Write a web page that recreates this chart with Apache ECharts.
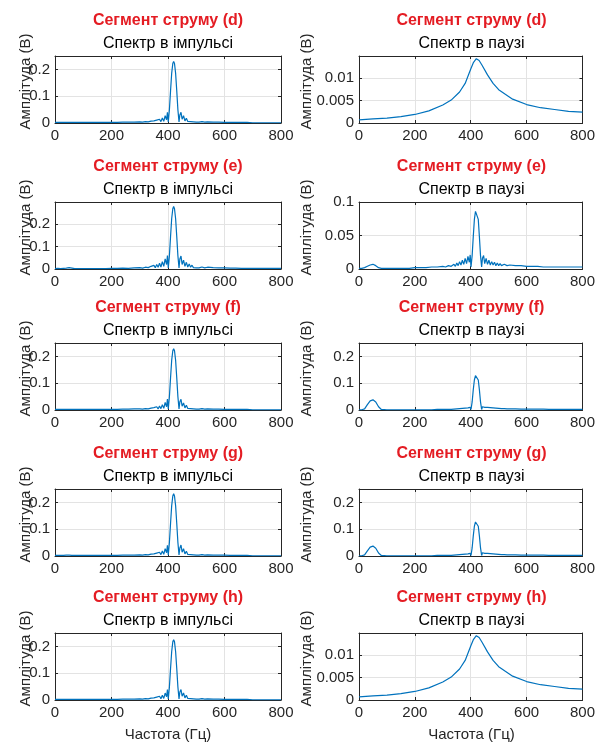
<!DOCTYPE html>
<html>
<head>
<meta charset="utf-8">
<script src="https://cdn.jsdelivr.net/npm/echarts@6/dist/echarts.min.js"></script>
<style>
  html, body { margin: 0; padding: 0; background: #fff; }
  #main { width: 598px; height: 747px; }
</style>
</head>
<body>
<div id="main"></div>
<script>
// частоти (Гц) для спектрів з пульсаціями
var fSpec = [0, 10, 20, 30, 40, 50, 60, 70, 80,
  100, 120, 140, 160, 180, 200, 220, 240, 260, 280, 300,
  310, 320, 330, 340,
  345, 350, 355, 360, 365, 370, 375, 380, 385, 390, 395,
  398, 401, 405, 409, 413, 417,
  420,
  423, 427, 431, 435, 439, 442,
  446, 450,
  455, 460, 465, 470, 475, 480, 485, 490, 495, 500, 505, 510,
  520, 530, 540,
  560, 580, 600, 620, 640, 660, 680, 700, 720, 740, 760, 780, 800];

// частоти для гладкого спектру паузи (d), (h)
var fSmooth = [0, 50, 100, 150, 200, 250, 300, 330, 360, 380, 400, 410, 420,
  430, 440, 460, 480, 500, 550, 600, 650, 700, 750, 800];

// спектри в імпульсі
var pulseD = [0.002, 0.002, 0.002, 0.002, 0.002, 0.002, 0.002, 0.002, 0.002,
  0.002, 0.002, 0.002, 0.002, 0.002, 0.002, 0.002, 0.003, 0.003, 0.003, 0.004,
  0.003, 0.005, 0.004, 0.007,
  0.003, 0.008, 0.003, 0.011, 0.004, 0.014, 0.005, 0.019, 0.006, 0.027, 0.012,
  0.040, 0.004, 0.050, 0.120, 0.185, 0.222,
  0.230,
  0.222, 0.185, 0.120, 0.050, 0.004, 0.030,
  0.040, 0.014,
  0.027, 0.008, 0.018, 0.006, 0.013, 0.005, 0.010, 0.004, 0.008, 0.003, 0.006, 0.003,
  0.005, 0.003, 0.004,
  0.003, 0.003, 0.002, 0.002, 0.002, 0.002, 0.002, 0.001, 0.001, 0.001, 0.001, 0.001, 0.001];

var pulseE = [0.002, 0.003, 0.002, 0.003, 0.004, 0.006, 0.004, 0.002, 0.002,
  0.002, 0.002, 0.002, 0.002, 0.002, 0.003, 0.003, 0.004, 0.003, 0.005, 0.006,
  0.004, 0.008, 0.006, 0.012,
  0.005, 0.016, 0.006, 0.020, 0.008, 0.026, 0.009, 0.033, 0.012, 0.045, 0.020,
  0.060, 0.005, 0.060, 0.145, 0.225, 0.270,
  0.280,
  0.270, 0.225, 0.145, 0.060, 0.005, 0.045,
  0.058, 0.020,
  0.040, 0.012, 0.030, 0.009, 0.022, 0.008, 0.017, 0.006, 0.013, 0.005, 0.011, 0.005,
  0.009, 0.005, 0.008,
  0.006, 0.005, 0.005, 0.004, 0.004, 0.003, 0.003, 0.003, 0.003, 0.003, 0.003, 0.003, 0.003];

var pulseF = [0.002, 0.002, 0.002, 0.002, 0.002, 0.002, 0.002, 0.002, 0.002,
  0.002, 0.002, 0.002, 0.002, 0.002, 0.002, 0.002, 0.003, 0.003, 0.004, 0.004,
  0.003, 0.005, 0.004, 0.007,
  0.003, 0.009, 0.003, 0.012, 0.004, 0.015, 0.005, 0.020, 0.006, 0.028, 0.012,
  0.041, 0.004, 0.050, 0.120, 0.185, 0.221,
  0.229,
  0.221, 0.185, 0.120, 0.050, 0.004, 0.031,
  0.040, 0.014,
  0.026, 0.008, 0.018, 0.006, 0.013, 0.005, 0.010, 0.004, 0.008, 0.003, 0.006, 0.003,
  0.005, 0.003, 0.004,
  0.003, 0.003, 0.002, 0.002, 0.002, 0.002, 0.002, 0.001, 0.001, 0.001, 0.001, 0.001, 0.001];

var pulseG = [0.002, 0.002, 0.002, 0.002, 0.003, 0.003, 0.002, 0.002, 0.002,
  0.002, 0.002, 0.002, 0.002, 0.002, 0.002, 0.002, 0.003, 0.003, 0.003, 0.004,
  0.003, 0.005, 0.004, 0.007,
  0.003, 0.008, 0.003, 0.011, 0.004, 0.014, 0.005, 0.019, 0.006, 0.027, 0.012,
  0.040, 0.004, 0.051, 0.121, 0.187, 0.224,
  0.232,
  0.224, 0.187, 0.121, 0.051, 0.004, 0.030,
  0.041, 0.014,
  0.027, 0.008, 0.018, 0.006, 0.013, 0.005, 0.010, 0.004, 0.008, 0.003, 0.006, 0.003,
  0.005, 0.003, 0.004,
  0.003, 0.003, 0.003, 0.002, 0.002, 0.002, 0.002, 0.001, 0.001, 0.001, 0.001, 0.001, 0.001];

var pulseH = [0.002, 0.002, 0.002, 0.002, 0.002, 0.002, 0.002, 0.002, 0.002,
  0.002, 0.002, 0.002, 0.002, 0.002, 0.002, 0.002, 0.003, 0.003, 0.003, 0.004,
  0.003, 0.005, 0.004, 0.007,
  0.003, 0.008, 0.003, 0.011, 0.004, 0.014, 0.005, 0.018, 0.006, 0.026, 0.012,
  0.039, 0.004, 0.049, 0.117, 0.180, 0.217,
  0.225,
  0.217, 0.180, 0.117, 0.049, 0.004, 0.030,
  0.039, 0.014,
  0.026, 0.008, 0.018, 0.006, 0.013, 0.005, 0.010, 0.004, 0.008, 0.003, 0.006, 0.003,
  0.005, 0.003, 0.004,
  0.003, 0.003, 0.002, 0.002, 0.002, 0.002, 0.002, 0.001, 0.001, 0.001, 0.001, 0.001, 0.001];

// спектри в паузі
var pauseD = [0.0007, 0.0009, 0.0011, 0.0014, 0.0019, 0.0027, 0.0040, 0.0051, 0.0069,
  0.0088, 0.0120, 0.0135, 0.0143, 0.0139, 0.0129, 0.0107, 0.0088, 0.0074,
  0.0053, 0.0041, 0.0034, 0.0030, 0.0026, 0.0024];

var pauseE = [0.001, 0.001, 0.002, 0.004, 0.006, 0.007, 0.005, 0.002, 0.001,
  0.001, 0.001, 0.001, 0.001, 0.001, 0.002, 0.002, 0.002, 0.003, 0.003, 0.004,
  0.003, 0.005, 0.004, 0.007,
  0.004, 0.009, 0.005, 0.011, 0.006, 0.013, 0.007, 0.016, 0.008, 0.019, 0.010,
  0.021, 0.003, 0.020, 0.048, 0.074, 0.086,
  0.088,
  0.086, 0.074, 0.048, 0.020, 0.003, 0.016,
  0.020, 0.008,
  0.016, 0.007, 0.013, 0.006, 0.011, 0.006, 0.010, 0.005, 0.009, 0.005, 0.008, 0.005,
  0.007, 0.005, 0.006,
  0.005, 0.005, 0.004, 0.004, 0.004, 0.003, 0.003, 0.003, 0.003, 0.003, 0.003, 0.003, 0.003];

var pauseF = [0.001, 0.001, 0.004, 0.020, 0.034, 0.038, 0.030, 0.012, 0.002,
  0.001, 0.001, 0.001, 0.001, 0.001, 0.001, 0.001, 0.001, 0.001, 0.002, 0.002,
  0.002, 0.002, 0.002, 0.003,
  0.002, 0.004, 0.003, 0.005, 0.003, 0.006, 0.004, 0.007, 0.004, 0.008, 0.006,
  0.010, 0.002, 0.030, 0.075, 0.112, 0.128,
  0.132,
  0.128, 0.112, 0.075, 0.030, 0.002, 0.012,
  0.015, 0.010,
  0.014, 0.010, 0.012, 0.009, 0.011, 0.008, 0.009, 0.007, 0.008, 0.006, 0.007, 0.005,
  0.005, 0.004, 0.004,
  0.004, 0.003, 0.003, 0.003, 0.003, 0.003, 0.002, 0.002, 0.002, 0.002, 0.002, 0.002, 0.002];

var pauseG = [0.001, 0.001, 0.004, 0.019, 0.033, 0.037, 0.029, 0.011, 0.002,
  0.001, 0.001, 0.001, 0.001, 0.001, 0.001, 0.001, 0.001, 0.001, 0.002, 0.002,
  0.002, 0.002, 0.002, 0.003,
  0.002, 0.004, 0.003, 0.005, 0.003, 0.006, 0.004, 0.007, 0.004, 0.008, 0.006,
  0.010, 0.002, 0.030, 0.074, 0.111, 0.127,
  0.131,
  0.127, 0.111, 0.074, 0.030, 0.002, 0.012,
  0.015, 0.010,
  0.014, 0.010, 0.012, 0.009, 0.011, 0.008, 0.009, 0.007, 0.008, 0.006, 0.007, 0.005,
  0.005, 0.004, 0.004,
  0.004, 0.003, 0.003, 0.003, 0.003, 0.003, 0.002, 0.002, 0.002, 0.002, 0.002, 0.002, 0.002];

var pauseH = [0.0007, 0.0009, 0.0011, 0.0014, 0.0019, 0.0027, 0.0040, 0.0051, 0.0069,
  0.0088, 0.0120, 0.0135, 0.0143, 0.0139, 0.0129, 0.0107, 0.0088, 0.0074,
  0.0053, 0.0041, 0.0034, 0.0030, 0.0026, 0.0024];

var segNames = ['d', 'e', 'f', 'g', 'h'];

// панелі: рядок за рядком, ліворуч імпульс, праворуч пауза
var panels = [
  {title: 'Спектр в імпульсі', f: fSpec, a: pulseD, max: 0.25, step: 0.1},
  {title: 'Спектр в паузі', f: fSmooth, a: pauseD, max: 0.0149, step: 0.005},
  {title: 'Спектр в імпульсі', f: fSpec, a: pulseE, max: 0.3, step: 0.1},
  {title: 'Спектр в паузі', f: fSpec, a: pauseE, max: 0.1, step: 0.05},
  {title: 'Спектр в імпульсі', f: fSpec, a: pulseF, max: 0.25, step: 0.1},
  {title: 'Спектр в паузі', f: fSpec, a: pauseF, max: 0.25, step: 0.1},
  {title: 'Спектр в імпульсі', f: fSpec, a: pulseG, max: 0.25, step: 0.1},
  {title: 'Спектр в паузі', f: fSpec, a: pauseG, max: 0.25, step: 0.1},
  {title: 'Спектр в імпульсі', f: fSpec, a: pulseH, max: 0.25, step: 0.1},
  {title: 'Спектр в паузі', f: fSmooth, a: pauseH, max: 0.0149, step: 0.005}
];

var FONT = "'Liberation Sans', Arial, sans-serif";
var TXT = '#262626';
var colLeft = [55, 359];
var colWidth = [226, 225];
var ylabX = [26, 307];
var rowTop = [56, 202, 343, 489, 633];
var plotH = 67;

var grids = [], xAxes = [], yAxes = [], series = [], texts = [];

panels.forEach(function (p, i) {
  var row = Math.floor(i / 2), col = i % 2;
  var left = colLeft[col], top = rowTop[row], w = colWidth[col];
  var cx = left + w / 2;

  grids.push({left: left, top: top, width: w, height: plotH});

  var tick = {show: true, inside: true, length: 3, lineStyle: {color: TXT, width: 1}};
  var line = {show: true, onZero: false, lineStyle: {color: TXT, width: 1}};
  var lab = {color: TXT, fontFamily: FONT, fontSize: 15};

  // нижня та верхня осі x
  xAxes.push({
    gridIndex: i, type: 'value', position: 'bottom', min: 0, max: 800, interval: 200,
    axisLine: line, axisTick: tick,
    axisLabel: Object.assign({margin: 5}, lab),
    splitLine: {show: true, lineStyle: {color: '#e3e3e3', width: 1}}
  });
  xAxes.push({
    gridIndex: i, type: 'value', position: 'top', min: 0, max: 800, interval: 200,
    axisLine: line, axisTick: tick, axisLabel: {show: false}, splitLine: {show: false}
  });
  // ліва та права осі y
  yAxes.push({
    gridIndex: i, type: 'value', position: 'left', min: 0, max: p.max, interval: p.step,
    axisLine: line, axisTick: tick,
    axisLabel: Object.assign({margin: 5, showMaxLabel: p.max === 0.1}, lab),
    splitLine: {show: true, lineStyle: {color: '#e3e3e3', width: 1}}
  });
  yAxes.push({
    gridIndex: i, type: 'value', position: 'right', min: 0, max: p.max, interval: p.step,
    axisLine: line, axisTick: tick, axisLabel: {show: false}, splitLine: {show: false}
  });

  series.push({
    type: 'line',
    xAxisIndex: 2 * i,
    yAxisIndex: 2 * i,
    data: p.f.map(function (f, k) { return [f, p.a[k]]; }),
    showSymbol: false,
    symbol: 'none',
    lineStyle: {color: '#0072bd', width: 1.2},
    clip: true
  });

  texts.push({
    type: 'text', x: cx, y: top - 35,
    style: {text: 'Сегмент струму (' + segNames[row] + ')', fill: '#e41c23',
      font: 'bold 16px ' + FONT, textAlign: 'center', textVerticalAlign: 'middle'}
  });
  texts.push({
    type: 'text', x: cx, y: top - 12,
    style: {text: p.title, fill: '#000', font: '16px ' + FONT,
      textAlign: 'center', textVerticalAlign: 'middle'}
  });
  texts.push({
    type: 'text', x: ylabX[col], y: top + plotH / 2 - 8, rotation: Math.PI / 2,
    style: {text: 'Амплітуда (В)', fill: TXT, font: '15px ' + FONT,
      textAlign: 'center', textVerticalAlign: 'middle'}
  });
  if (row === rowTop.length - 1) {
    texts.push({
      type: 'text', x: cx, y: 735,
      style: {text: 'Частота (Гц)', fill: TXT, font: '15px ' + FONT,
        textAlign: 'center', textVerticalAlign: 'middle'}
    });
  }
});

var chart = echarts.init(document.getElementById('main'));
chart.setOption({
  animation: false,
  backgroundColor: '#fff',
  grid: grids,
  xAxis: xAxes,
  yAxis: yAxes,
  series: series,
  graphic: texts
});
</script>
</body>
</html>
